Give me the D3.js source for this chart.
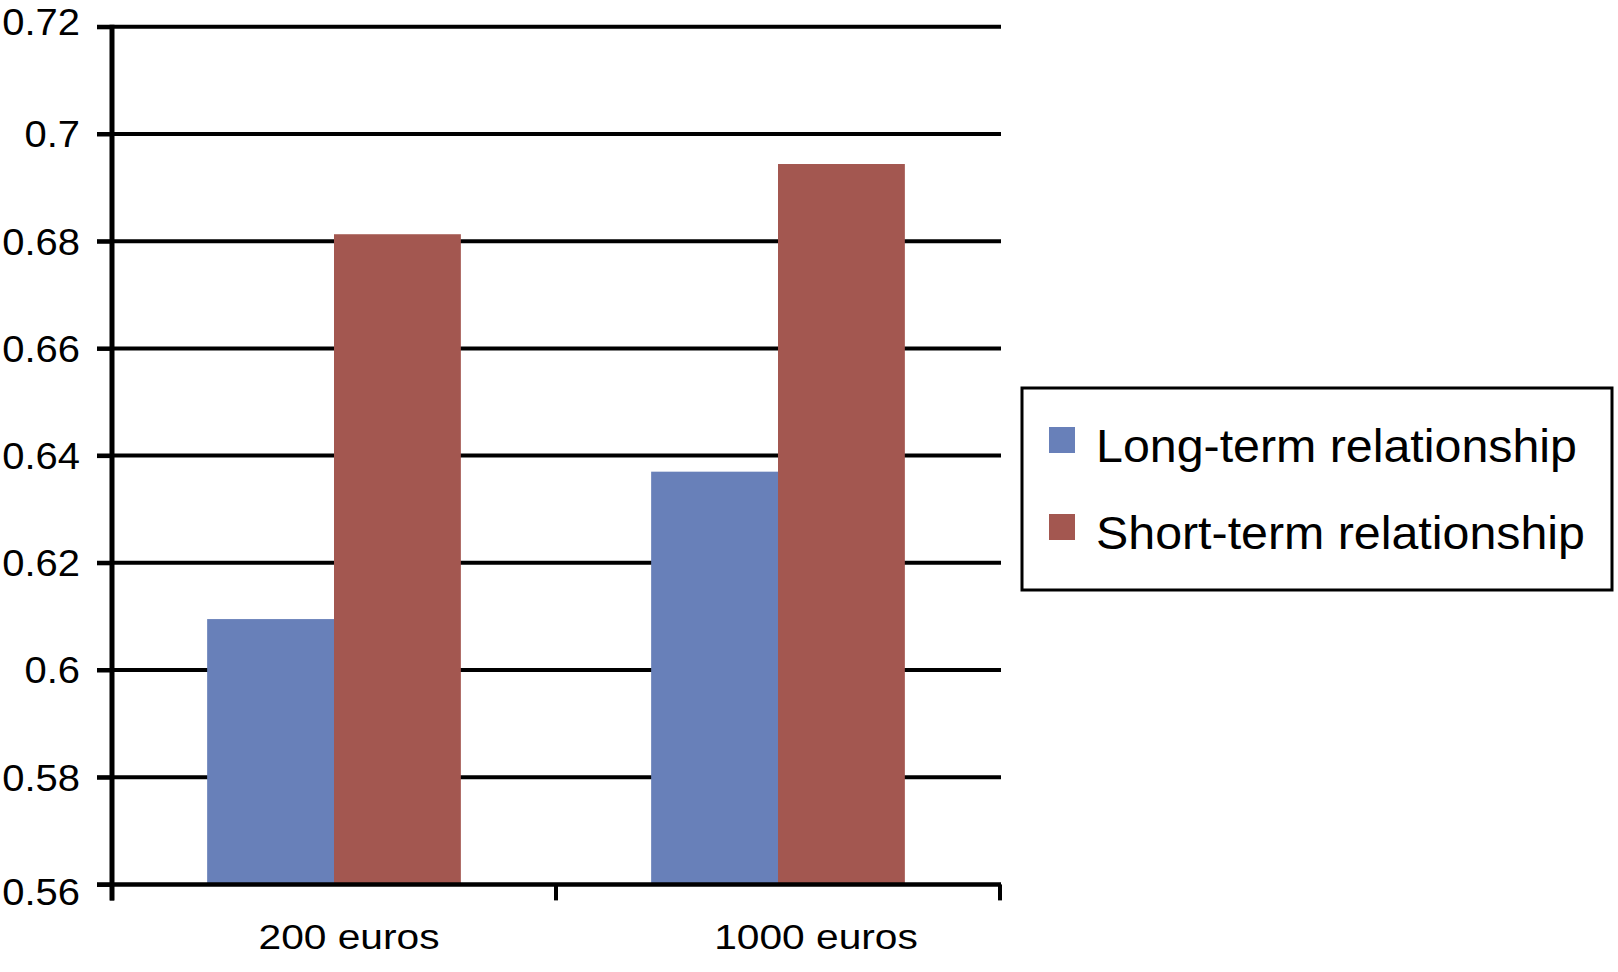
<!DOCTYPE html>
<html>
<head>
<meta charset="utf-8">
<script src="https://cdn.jsdelivr.net/npm/d3@7"></script>
<style>
  html, body { margin: 0; padding: 0; background: #fff; }
  svg { display: block; }
  text { font-family: "Liberation Sans", Arial, Helvetica, sans-serif; fill: #000; }
</style>
</head>
<body>
<script>
// ---- data ----
const categories = ["200 euros", "1000 euros"];
const seriesNames = ["Long-term relationship", "Short-term relationship"];
const longTerm = [0.6095, 0.637];
const shortTerm = [0.6813, 0.6944];
const yTickValues = [0.56, 0.58, 0.6, 0.62, 0.64, 0.66, 0.68, 0.7, 0.72];
const yTickLabels = ["0.56", "0.58", "0.6", "0.62", "0.64", "0.66", "0.68", "0.7", "0.72"];
const colors = ["#6880B9", "#A35750"];

const W = 1618, H = 972;
const svg = d3.select("body").append("svg").attr("width", W).attr("height", H);
svg.append("rect").attr("width", W).attr("height", H).attr("fill", "#fff");

const plot = { left: 112, right: 1000, top: 26.8, bottom: 884.4 };

const y = d3.scaleLinear().domain([0.56, 0.72]).range([plot.bottom, plot.top]);
const x0 = d3.scaleBand().domain(categories).range([plot.left, plot.right]).padding(0);
const x1 = d3.scaleBand().domain(seriesNames).range([0, x0.bandwidth()]).paddingInner(0).paddingOuter(0.75);

const data = categories.map((c, i) => ({
  cat: c,
  values: [ { s: seriesNames[0], v: longTerm[i] }, { s: seriesNames[1], v: shortTerm[i] } ]
}));

// gridlines
svg.append("g").selectAll("line").data(yTickValues.slice(1)).join("line")
  .attr("x1", plot.left - 15).attr("x2", plot.right + 1)
  .attr("y1", d => y(d)).attr("y2", d => y(d))
  .attr("stroke", "#000").attr("stroke-width", 4);

// bars
const groups = svg.append("g").selectAll("g").data(data).join("g")
  .attr("transform", d => `translate(${x0(d.cat)},0)`);
groups.selectAll("rect").data(d => d.values).join("rect")
  .attr("x", d => x1(d.s))
  .attr("width", x1.bandwidth())
  .attr("y", d => y(d.v))
  .attr("height", d => y(0.56) - y(d.v))
  .attr("fill", (d, i) => colors[i]);

// y axis ticks + labels
const yAxis = d3.axisLeft(y).tickValues(yTickValues).tickSize(15).tickFormat((d, i) => yTickLabels[i]);
const gy = svg.append("g").attr("transform", `translate(${plot.left},0)`).call(yAxis);
gy.select(".domain").remove();
gy.selectAll(".tick line").attr("stroke", "#000").attr("stroke-width", 4);
gy.selectAll(".tick text").remove();
svg.append("g").selectAll("text").data(yTickValues).join("text")
  .attr("text-anchor", "end")
  .attr("font-size", 37)
  .attr("transform", (d, i) => {
    let dy = 13.3;
    if (i === 0) dy = 21;
    if (i === yTickValues.length - 1) dy = 8.5;
    return `translate(80,${y(d) + dy}) scale(1.08,1)`;
  })
  .text((d, i) => yTickLabels[i]);

// y axis line
svg.append("line")
  .attr("x1", plot.left).attr("x2", plot.left)
  .attr("y1", plot.top - 2).attr("y2", plot.bottom + 16)
  .attr("stroke", "#000").attr("stroke-width", 5);

// x axis line
svg.append("line")
  .attr("x1", plot.left - 15).attr("x2", plot.right + 1)
  .attr("y1", plot.bottom).attr("y2", plot.bottom)
  .attr("stroke", "#000").attr("stroke-width", 4.5);

// x ticks
const xTickPos = categories.map(c => x0(c)).concat([plot.right]);
svg.append("g").selectAll("line").data(xTickPos).join("line")
  .attr("x1", d => d).attr("x2", d => d)
  .attr("y1", plot.bottom).attr("y2", plot.bottom + 16)
  .attr("stroke", "#000").attr("stroke-width", 4);

// x labels
const xLabelDx = [15, 38];
svg.append("g").selectAll("text").data(categories).join("text")
  .attr("text-anchor", "middle")
  .attr("font-size", 34.5)
  .attr("transform", (d, i) => `translate(${x0(d) + x0.bandwidth() / 2 + xLabelDx[i]},949) scale(1.18,1)`)
  .text(d => d);

// legend
const lg = svg.append("g");
lg.append("rect")
  .attr("x", 1022).attr("y", 388).attr("width", 590).attr("height", 202)
  .attr("fill", "#fff").attr("stroke", "#000").attr("stroke-width", 3);
const items = lg.selectAll("g.item").data(seriesNames).join("g").attr("class", "item")
  .attr("transform", (d, i) => `translate(0,${i * 87})`);
items.append("rect")
  .attr("x", 1049).attr("y", 427).attr("width", 26).attr("height", 26)
  .attr("fill", (d, i) => colors[i]);
items.append("text")
  .attr("font-size", 46.5)
  .attr("transform", "translate(1096,461.7) scale(1.04,1)")
  .text(d => d);
</script>
</body>
</html>
